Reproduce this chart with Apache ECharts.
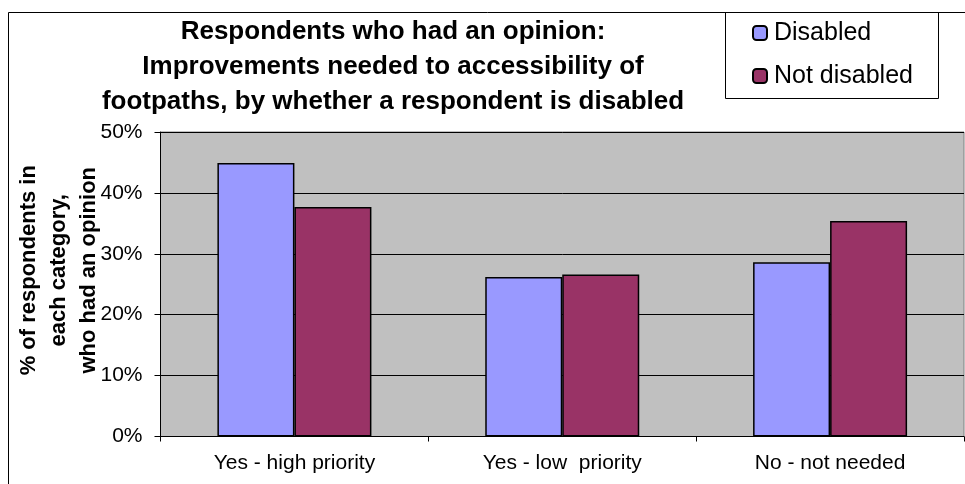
<!DOCTYPE html>
<html>
<head>
<meta charset="utf-8">
<script src="https://cdn.jsdelivr.net/npm/echarts@6/dist/echarts.min.js"></script>
<style>
html,body{margin:0;padding:0;background:#fff;}
#c{width:965px;height:484px;}
</style>
</head>
<body>
<div id="c"></div>
<script>
const categories = ['Yes - high priority', 'Yes - low  priority', 'No - not needed'];
const disabled = [44.9, 26.2, 28.6];
const notDisabled = [37.7, 26.6, 35.4];
const yTicks = [0, 10, 20, 30, 40, 50];
const titleLines = ['Respondents who had an opinion:', 'Improvements needed to accessibility of', 'footpaths, by whether a respondent is disabled'];
const yName = '% of respondents in\neach category,\nwho had an opinion';

const FONT = 'Arial, "Liberation Sans", sans-serif';
const chart = echarts.init(document.getElementById('c'), null, {renderer: 'canvas'});
chart.setOption({
  animation: false,
  backgroundColor: '#ffffff',
  textStyle: {fontFamily: FONT},
  title: {
    text: titleLines.join('\n'),
    left: 393, top: 14, textAlign: 'center',
    padding: 0,
    textStyle: {fontFamily: FONT, fontSize: 26, fontWeight: 'bold', color: '#000', lineHeight: 35}
  },
  legend: {
    orient: 'vertical', left: 752, top: 19, padding: 0,
    itemWidth: 14, itemHeight: 14, itemGap: 15,
    textStyle: {fontFamily: FONT, fontSize: 25, color: '#000', lineHeight: 28, padding: [0, 0, 0, 2]},
    data: ['Disabled', 'Not disabled']
  },
  graphic: [
    {type: 'rect', shape: {x: 8.5, y: 12.5, width: 1000, height: 1000}, style: {fill: null, stroke: '#000', lineWidth: 1}, silent: true},
    {type: 'rect', shape: {x: 725.5, y: 12.5, width: 213, height: 86}, style: {fill: null, stroke: '#000', lineWidth: 1}, silent: true}
  ],
  grid: {
    left: 160.5, top: 132, right: 1, bottom: 47.5,
    outerBoundsMode: 'none', containLabel: false,
    show: true, backgroundColor: '#C0C0C0', borderColor: '#808080', borderWidth: 1
  },
  xAxis: {
    type: 'category', data: categories,
    axisLine: {lineStyle: {color: '#000', width: 1}},
    axisTick: {show: true, length: 5, lineStyle: {color: '#000'}},
    axisLabel: {fontFamily: FONT, fontSize: 21, color: '#000', margin: 16}
  },
  yAxis: {
    type: 'value', min: yTicks[0], max: yTicks[yTicks.length - 1], interval: 10,
    name: yName, nameLocation: 'middle', nameRotate: 90, nameGap: 57, nameMoveOverlap: false,
    nameTextStyle: {fontFamily: FONT, fontSize: 22, fontWeight: 'bold', color: '#000', lineHeight: 30, padding: [0, 0, 0, 28]},
    axisLine: {show: true, lineStyle: {color: '#000', width: 1}},
    axisTick: {show: true, length: 6, lineStyle: {color: '#000'}},
    splitLine: {show: true, lineStyle: {color: '#000', width: 1}},
    axisLabel: {fontFamily: FONT, fontSize: 21, color: '#000', margin: 18, formatter: v => v + '%'}
  },
  series: [
    {name: 'Disabled', type: 'bar', data: disabled, barGap: '0%', barCategoryGap: '42.5%',
     itemStyle: {color: '#9999FF', borderColor: '#000', borderWidth: 1.5}},
    {name: 'Not disabled', type: 'bar', data: notDisabled, barGap: '0%', barCategoryGap: '42.5%',
     itemStyle: {color: '#993366', borderColor: '#000', borderWidth: 1.5}}
  ]
});
</script>
</body>
</html>
